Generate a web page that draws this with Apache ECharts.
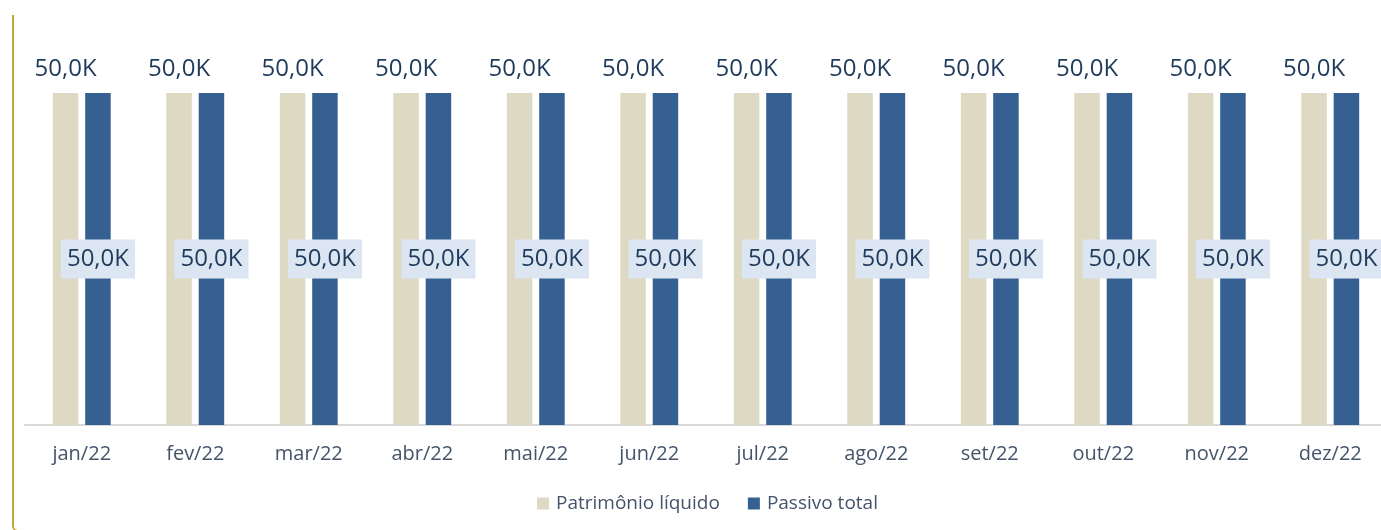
<!DOCTYPE html>
<html>
<head>
<meta charset="utf-8">
<script src="https://cdn.jsdelivr.net/npm/echarts@6/dist/echarts.min.js"></script>
<style>
  html, body { margin: 0; padding: 0; background: #fff; overflow: hidden; width: 1381px; height: 530px; }
  #frame { position: absolute; left: 12px; top: 15px; width: 1500px; height: 517px;
           border-left: 2px solid #C9A33A; border-bottom: 2px solid #C9A33A;
           border-bottom-left-radius: 6px; box-sizing: border-box; }
  #chart { position: absolute; left: 0; top: 0; width: 1400px; height: 530px; }
</style>
</head>
<body>
<div id="frame"></div>
<div id="chart"></div>
<script>
const categories = ['jan/22','fev/22','mar/22','abr/22','mai/22','jun/22','jul/22','ago/22','set/22','out/22','nov/22','dez/22'];
const patrimonioLiquido = [50, 50, 50, 50, 50, 50, 50, 50, 50, 50, 50, 50];
const passivoTotal = [50, 50, 50, 50, 50, 50, 50, 50, 50, 50, 50, 50];
const seriesNames = ['Patrimônio líquido', 'Passivo total'];

const fmt = p => (p.value).toFixed(1).replace('.', ',') + 'K';
const chart = echarts.init(document.getElementById('chart'), null, { renderer: 'canvas' });
chart.setOption({
  backgroundColor: 'transparent',
  animation: false,
  textStyle: { fontFamily: 'Open Sans' },
  grid: { left: 25, top: 93, width: 1362, bottom: 105, containLabel: false },
  legend: {
    left: 537, top: 494, padding: 0,
    itemWidth: 12, itemHeight: 12, itemGap: 28,
    icon: 'rect',
    textStyle: { fontSize: 19, color: '#44546A', fontFamily: 'Open Sans', padding: [0, 0, 0, 2] },
    data: seriesNames
  },
  xAxis: {
    type: 'category', data: categories,
    axisLine: { show: true, lineStyle: { color: '#D9D9D9', width: 2 } },
    axisTick: { show: false },
    axisLabel: { fontSize: 20, color: '#44546A', margin: 19, fontFamily: 'Open Sans' }
  },
  yAxis: { type: 'value', min: 0, max: 50, show: false, splitLine: { show: false } },
  series: [
    {
      name: seriesNames[0], type: 'bar', data: patrimonioLiquido,
      barWidth: 25.5, barGap: '27%',
      itemStyle: { color: '#DDD9C3' },
      label: { show: true, position: 'top', distance: 12, formatter: fmt,
               fontSize: 24, color: '#1F3B5C', fontFamily: 'Open Sans' }
    },
    {
      name: seriesNames[1], type: 'bar', data: passivoTotal,
      barWidth: 25.5,
      itemStyle: { color: '#376092' },
      label: { show: true, position: 'inside', formatter: fmt,
               fontSize: 24, lineHeight: 27, color: '#1F3B5C', fontFamily: 'Open Sans',
               backgroundColor: '#DCE6F2', padding: [6, 6, 6, 6] }
    }
  ]
});
</script>
</body>
</html>
